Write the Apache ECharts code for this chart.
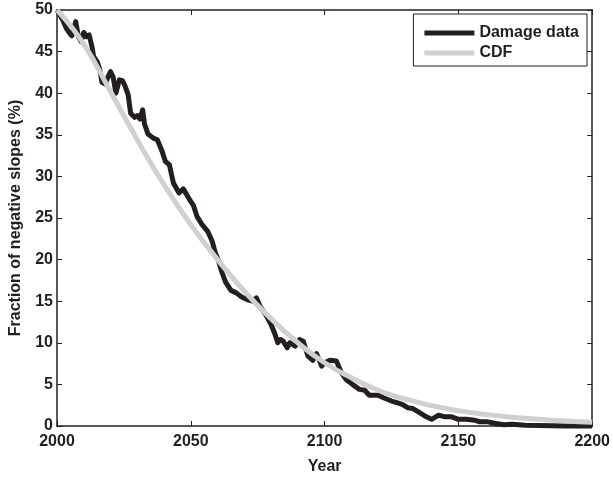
<!DOCTYPE html>
<html>
<head>
<meta charset="utf-8">
<script src="https://cdn.jsdelivr.net/npm/echarts@6/dist/echarts.min.js"></script>
<style>
  html, body { margin: 0; padding: 0; background: #fff; }
  #chart { width: 613px; height: 480px; }
</style>
</head>
<body>
<div id="chart"></div>
<script>
// 数据
const damageYears = [
  2000, 2002, 2003.5, 2004.5, 2005.5, 2007, 2008, 2009, 2010, 2011, 2012, 2013,
  2013.7, 2015, 2016, 2016.8, 2018, 2019, 2020, 2021, 2022, 2023.3, 2024.5, 2025.5,
  2026.6, 2027.5, 2029, 2030, 2031, 2032, 2032.7, 2034, 2036, 2037.5, 2039.3, 2040.5,
  2042, 2043.5, 2045.6, 2047.2, 2049.2, 2051, 2052.3, 2054, 2056.3, 2058, 2059, 2060.4,
  2061.5, 2063, 2065, 2067, 2069, 2071, 2073, 2074.5, 2076, 2078, 2080, 2081.5,
  2082.5, 2083.5, 2084.5, 2086, 2087, 2089, 2090.7, 2092, 2093.8, 2095.6, 2097, 2098.9,
  2100, 2102, 2104.4, 2106.3, 2108, 2110.4, 2113, 2115, 2116.7, 2120, 2122, 2125,
  2127, 2129, 2131, 2133, 2135.5, 2138, 2140, 2142.6, 2145, 2147.5, 2150, 2153,
  2156, 2158, 2161, 2164, 2167, 2170, 2175, 2180, 2190, 2200,
]
const damageValues = [
  50, 48.9, 47.8, 47.3, 46.9, 48.6, 46.8, 46.2, 47.3, 46.8, 47.0, 45.7,
  44.4, 43.8, 42.8, 41.3, 41.1, 41.9, 42.6, 41.9, 40.0, 41.6, 41.5, 40.8,
  39.8, 37.6, 37.1, 37.3, 36.9, 38.0, 36.3, 35.1, 34.6, 34.4, 33.0, 31.8,
  31.4, 29.2, 28.0, 28.5, 27.4, 26.5, 25.2, 24.3, 23.4, 22.2, 21.0, 19.8,
  18.6, 17.3, 16.3, 16.0, 15.5, 15.2, 15.0, 15.4, 14.3, 13.4, 12.2, 11.0,
  10.0, 10.4, 10.2, 9.4, 10.0, 9.6, 10.4, 10.2, 8.4, 7.9, 8.7, 7.2,
  7.6, 7.9, 7.8, 6.4, 5.6, 5.0, 4.4, 4.3, 3.7, 3.7, 3.4, 3.0,
  2.8, 2.6, 2.2, 2.1, 1.6, 1.1, 0.8, 1.3, 1.1, 1.1, 0.8, 0.8,
  0.7, 0.5, 0.5, 0.3, 0.15, 0.2, 0.1, 0.05, 0, 0,
]
const cdfYears = [
  2000, 2010, 2020, 2030, 2040, 2050, 2060, 2070, 2080, 2090, 2100,
  2110, 2120, 2130, 2140, 2150, 2160, 2170, 2180, 2190, 2200,
]
const cdfValues = [
  50, 45.9, 40.2, 34.4, 29.0, 24.2, 20.0, 16.2, 12.9, 10.0, 7.6,
  5.8, 4.3, 3.25, 2.45, 1.85, 1.4, 1.05, 0.8, 0.6, 0.45,
]
const xTicks = [2000, 2050, 2100, 2150, 2200]
const yTicks = [0, 5, 10, 15, 20, 25, 30, 35, 40, 45, 50]

const myChart = echarts.init(document.getElementById('chart'))

const fontFamily = 'Liberation Sans, Arial, Helvetica, sans-serif'
const ink = '#231f20'

function boxAxis(extra) {
  return Object.assign(
    {
      type: 'value',
      axisLine: { show: true, onZero: false, lineStyle: { color: ink, width: 1.5 } },
      axisTick: { show: true, inside: true, length: 5, lineStyle: { color: ink, width: 1 } },
      splitLine: { show: false },
    },
    extra
  )
}

const option = {
  animation: false,
  backgroundColor: '#fff',
  grid: { left: 55, right: 18, top: 10, bottom: 46 },
  legend: {
    right: 26,
    top: 14,
    orient: 'vertical',
    align: 'left',
    icon: 'rect',
    itemWidth: 50,
    itemHeight: 5,
    itemGap: 4,
    padding: [11, 8, 5, 11],
    borderColor: ink,
    borderWidth: 1,
    backgroundColor: '#fff',
    textStyle: { fontFamily, fontWeight: 'bold', fontSize: 16, color: ink },
    data: ['Damage data', 'CDF'],
  },
  xAxis: [
    boxAxis({
      min: xTicks[0],
      max: xTicks[xTicks.length - 1],
      interval: 50,
      name: 'Year',
      nameLocation: 'middle',
      nameGap: 33,
      nameTextStyle: { fontFamily, fontWeight: 'bold', fontSize: 16, color: ink },
      axisLabel: {
        fontFamily, fontWeight: 'bold', fontSize: 16, color: ink, margin: 8,
        formatter: (v) => String(v),
      },
    }),
    boxAxis({
      position: 'top',
      min: xTicks[0],
      max: xTicks[xTicks.length - 1],
      interval: 50,
      axisLabel: { show: false },
    }),
  ],
  yAxis: [
    boxAxis({
      min: yTicks[0],
      max: yTicks[yTicks.length - 1],
      interval: 5,
      name: 'Fraction of negative slopes (%)',
      nameLocation: 'middle',
      nameGap: 33,
      nameTextStyle: { fontFamily, fontWeight: 'bold', fontSize: 16, color: ink },
      axisLabel: { fontFamily, fontWeight: 'bold', fontSize: 16, color: ink, margin: 4 },
    }),
    boxAxis({
      position: 'right',
      min: yTicks[0],
      max: yTicks[yTicks.length - 1],
      interval: 5,
      axisLabel: { show: false },
    }),
  ],
  series: [
    {
      name: 'Damage data',
      type: 'line',
      xAxisIndex: 0,
      yAxisIndex: 0,
      data: damageYears.map((y, i) => [y, damageValues[i]]),
      symbol: 'none',
      clip: false,
      lineStyle: { color: ink, width: 5, join: 'round' },
      itemStyle: { color: ink },
    },
    {
      name: 'CDF',
      type: 'line',
      xAxisIndex: 0,
      yAxisIndex: 0,
      data: cdfYears.map((y, i) => [y, cdfValues[i]]),
      smooth: true,
      symbol: 'none',
      clip: false,
      lineStyle: { color: '#d0d0d0', width: 5 },
      itemStyle: { color: '#d0d0d0' },
    },
  ],
}

myChart.setOption(option)
</script>
</body>
</html>
